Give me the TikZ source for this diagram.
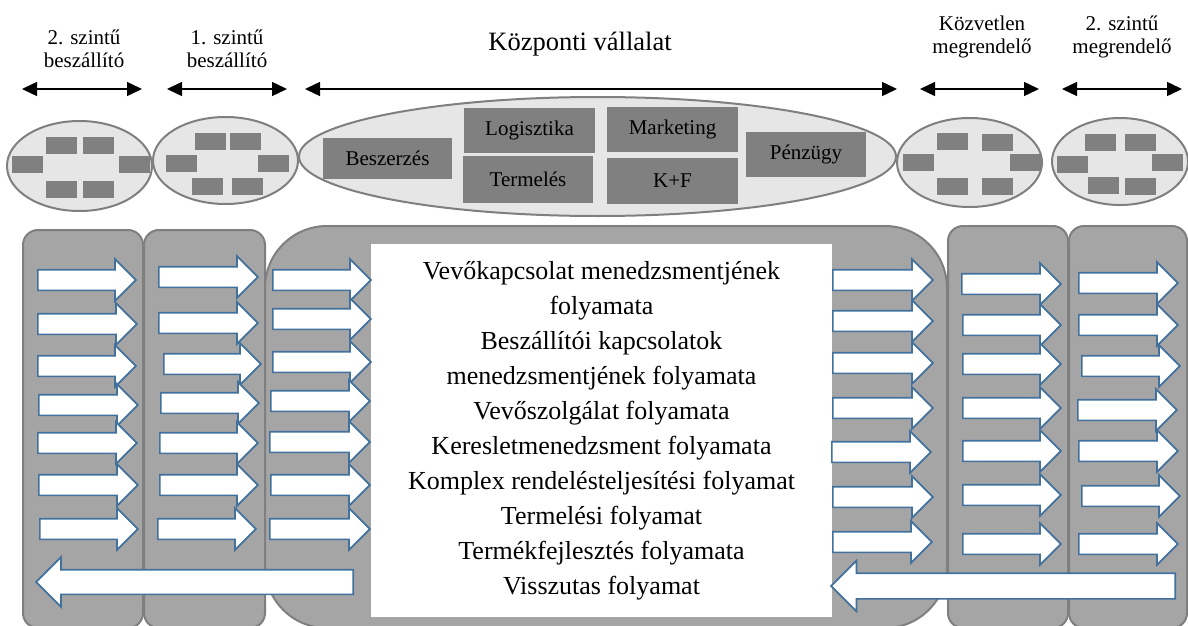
\documentclass[tikz,border=0pt]{standalone}
\usepackage{fontspec}
\setmainfont{Liberation Serif}
\usetikzlibrary{shapes.geometric,shapes.arrows,arrows.meta}
\definecolor{lanefill}{HTML}{A5A5A5}
\definecolor{laneedge}{HTML}{7F7F7F}
\definecolor{unitfill}{HTML}{E6E6E6}
\definecolor{boxfill}{HTML}{808080}
\definecolor{arrowblue}{HTML}{41719C}

\begin{document}
\begin{tikzpicture}[x=1pt,y=-1pt,
  lane/.style={fill=lanefill,draw=laneedge,line width=2pt},
  unit/.style={ellipse,fill=unitfill,draw=laneedge,line width=2pt,inner sep=0},
  member/.style={fill=boxfill,minimum width=31pt,minimum height=17pt,inner sep=0},
  dept/.style={fill=boxfill,inner sep=0,font=\fontsize{21}{24}\selectfont},
  flow/.style={single arrow,draw=arrowblue,fill=white,line width=1.7pt,
    inner xsep=0pt,inner ysep=9.5pt,single arrow head extend=10.5pt,
    single arrow tip angle=90,minimum width=0pt,anchor=tail},
  backflow/.style={flow,shape border rotate=180,inner ysep=11.5pt,
    single arrow head extend=12.5pt},
  span/.style={{Triangle[length=15pt,width=14pt]}-{Triangle[length=15pt,width=14pt]},line width=1.4pt},
  tier/.style={align=center,font=\fontsize{21}{23}\selectfont,inner sep=0pt}
]
\useasboundingbox (0,0) rectangle (1188,626);

% ---- tier headings ----
\node[tier] (h1) at (84,49) {2. szintű\\beszállító};
\node[tier] (h2) at (227,49) {1. szintű\\beszállító};
\node[tier,font=\fontsize{26.5}{28}\selectfont] (h3) at (580,44) {Központi vállalat};
\node[tier] (h4) at (982,37) {Közvetlen\\megrendelő};
\node[tier] (h5) at (1122,37) {2. szintű\\megrendelő};

% ---- span arrows ----
\coordinate (s1a) at (22,89);   \coordinate (s1b) at (142,89);
\coordinate (s2a) at (167,89);  \coordinate (s2b) at (287,89);
\coordinate (s3a) at (305,89);  \coordinate (s3b) at (897,89);
\coordinate (s4a) at (920,89);  \coordinate (s4b) at (1039,89);
\coordinate (s5a) at (1062,89); \coordinate (s5b) at (1182,89);
\foreach \k in {1,...,5} \draw[span] (s\k a) -- (s\k b);

% ---- organisations ----
\node[unit,minimum width=145pt,minimum height=90pt] (e1) at (79.5,166) {};
\node[unit,minimum width=145pt,minimum height=87pt] (e2) at (225.5,160.5) {};
\node[unit,minimum width=597pt,minimum height=119pt] (e3) at (597.5,156.5) {};
\node[unit,minimum width=145pt,minimum height=89pt] (e4) at (969.5,162.5) {};
\node[unit,minimum width=136pt,minimum height=87pt] (e5) at (1120,161.5) {};

\foreach \x/\y [count=\i] in {61/145.5,98/145.5,27.5/164.5,134.5/164.5,61/189.5,98/189.5}
  \node[member] (m1-\i) at (\x,\y) {};
\foreach \x/\y [count=\i] in {210.5/141.5,245/141.5,181.5/163.5,273/163.5,207.5/186.5,247.5/186.5}
  \node[member] (m2-\i) at (\x,\y) {};
\foreach \x/\y [count=\i] in {952/141.5,997.5/142.5,918.5/162.5,1025.5/162.5,952/186,997.5/186}
  \node[member] (m4-\i) at (\x,\y) {};
\foreach \x/\y [count=\i] in {1100.5/142.5,1140.5/142.5,1072.5/164.5,1167.5/162.5,1103/185.5,1140.5/186.5}
  \node[member] (m5-\i) at (\x,\y) {};

% ---- company departments ----
\node[dept,minimum width=129pt,minimum height=41pt] (beszerzes) at (387.5,158.5) {Beszerzés};
\node[dept,minimum width=131pt,minimum height=45pt] (logisztika) at (529.5,130.5) {Logisztika};
\node[dept,minimum width=130pt,minimum height=47pt] (termeles) at (528,179.5) {Termelés};
\node[dept,minimum width=131pt,minimum height=45pt] (marketing) at (672.5,129.5) {Marketing};
\node[dept,minimum width=131pt,minimum height=46pt] (kf) at (672.5,181) {K+F};
\node[dept,minimum width=120pt,minimum height=45pt] (penzugy) at (806,154.5) {Pénzügy};

% ---- process lanes ----
\draw[lane,rounded corners=15pt] (23,230) rectangle (143,628);
\draw[lane,rounded corners=15pt] (144,230) rectangle (265,628);
\draw[lane,rounded corners=62pt] (265,226) rectangle (947,628);
\draw[lane,rounded corners=15pt] (948,226) rectangle (1068,628);
\draw[lane,rounded corners=15pt] (1069,226) rectangle (1187,628);

\fill[white] (371,244) rectangle (832,617);

% ---- forward flows ----
\foreach \x/\y/\l [count=\i] in {37/280/98,37/324/99,37/366/98,38/405/99,37/443/99,38/485/99,39/529/98}
  \node[flow,minimum height=\l pt] (fa-\i) at (\x,\y) {};
\foreach \x/\y/\l [count=\i] in {158/277/99,158/323/99,163/364/97,160/403/98,159/443/98,159/485/98,157/529/98}
  \node[flow,minimum height=\l pt] (fb-\i) at (\x,\y) {};
\foreach \x/\y/\l [count=\i] in {272/280/98,272/319/98,272/362/98,270/401/99,269/442/100,270/485/99,269/529/100}
  \node[flow,minimum height=\l pt] (fc-\i) at (\x,\y) {};
\foreach \x/\y/\l [count=\i] in {832/280/100,832/321/100,832/363/100,832/408/100,831/452/99,832/497/100,832/542/99}
  \node[flow,minimum height=\l pt] (fd-\i) at (\x,\y) {};
\foreach \x/\y/\l [count=\i] in {961/284/99,962/325/98,962/364/98,962/408/98,962/451/98,962/495/98,962/544/98}
  \node[flow,minimum height=\l pt] (fe-\i) at (\x,\y) {};
\foreach \x/\y/\l [count=\i] in {1078/283/99,1078/325/99,1081/366/98,1077/410/99,1078/451/99,1081/496/98,1078/544/99}
  \node[flow,minimum height=\l pt] (ff-\i) at (\x,\y) {};

% ---- return flows ----
\node[backflow,minimum height=317pt] (ret-left) at (354,582) {};
\node[backflow,minimum height=344pt,inner ysep=12pt,single arrow head extend=12.5pt] (ret-right) at (1176,586) {};

% ---- process list ----
\node[align=center,inner sep=0pt,font=\fontsize{26}{35}\selectfont] (procs) at (601.5,431)
  {Vevőkapcsolat menedzsmentjének\\folyamata\\Beszállítói kapcsolatok\\menedzsmentjének folyamata\\Vevőszolgálat folyamata\\Keresletmenedzsment folyamata\\Komplex rendelésteljesítési folyamat\\Termelési folyamat\\Termékfejlesztés folyamata\\Visszutas folyamat};
\end{tikzpicture}
\end{document}
